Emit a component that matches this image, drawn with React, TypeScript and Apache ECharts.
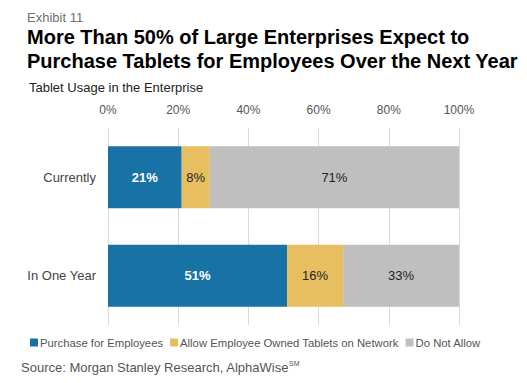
import React, { useEffect, useRef } from "react";
import * as echarts from "echarts";

const categories = ["Currently", "In One Year"];
const purchase = [21, 51];
const allowOwned = [8, 16];
const doNotAllow = [71, 33];
const seriesNames = ["Purchase for Employees", "Allow Employee Owned Tablets on Network", "Do Not Allow"];
const colors = ["#1872a6", "#e8bf60", "#bfbfbf"];

export default function App() {
  const ref = useRef<HTMLDivElement>(null);
  useEffect(() => {
    const chart = echarts.init(ref.current!, null, { renderer: "svg" });
    const font = "Liberation Sans, Arial, sans-serif";
    const mk = (name: string, data: number[], color: string, labelColor: string, bold: boolean) => ({
      name,
      type: "bar",
      stack: "total",
      data,
      barWidth: "63%",
      itemStyle: { color },
      label: {
        show: true,
        position: "inside",
        formatter: "{c}%",
        color: labelColor,
        fontWeight: bold ? "bold" : "normal",
        fontSize: 13,
        fontFamily: font,
      },
    });
    chart.setOption({
      animation: false,
      textStyle: { fontFamily: font },
      title: [
        { text: "Exhibit 11", left: 22, top: 6, textStyle: { fontSize: 13, color: "#6e6e6e", fontWeight: "normal", fontFamily: font } },
        {
          text: "More Than 50% of Large Enterprises Expect to\nPurchase Tablets for Employees Over the Next Year",
          left: 22,
          top: 20,
          textStyle: { fontSize: 20, color: "#000", fontWeight: "bold", lineHeight: 24, fontFamily: font },
        },
        { text: "Tablet Usage in the Enterprise", left: 24, top: 76, textStyle: { fontSize: 13, color: "#222", fontWeight: "normal", fontFamily: font } },
        {
          text: "Source: Morgan Stanley Research, AlphaWise{sup|SM}",
          left: 16,
          top: 355,
          textStyle: {
            fontSize: 13,
            color: "#555",
            fontWeight: "normal",
            fontFamily: font,
            rich: { sup: { fontSize: 7, color: "#555", verticalAlign: "top", padding: [0, 0, 8, 0] } },
          },
        },
      ],
      legend: {
        left: 25,
        top: 332,
        itemWidth: 8,
        itemHeight: 8,
        itemGap: 7,
        icon: "rect",
        textStyle: { fontSize: 11.3, color: "#555", fontFamily: font, padding: [0, 0, 0, -3] },
        data: seriesNames,
      },
      grid: { left: 108, right: 68, top: 128, bottom: 58, containLabel: false },
      xAxis: {
        type: "value",
        position: "top",
        min: 0,
        max: 100,
        interval: 20,
        axisLabel: { formatter: "{value}%", color: "#555", fontSize: 12, margin: 12, fontFamily: font },
        axisLine: { show: false },
        axisTick: { show: false },
        splitLine: { show: true, lineStyle: { color: "#d9d9d9", width: 1 } },
      },
      yAxis: {
        type: "category",
        inverse: true,
        data: categories,
        axisLine: { show: false },
        axisTick: { show: false },
        axisLabel: { color: "#444", fontSize: 13, margin: 12, fontFamily: font },
      },
      series: [
        mk(seriesNames[0], purchase, colors[0], "#fff", true),
        mk(seriesNames[1], allowOwned, colors[1], "#222", false),
        mk(seriesNames[2], doNotAllow, colors[2], "#222", false),
      ],
    });
    return () => chart.dispose();
  }, []);
  return <div ref={ref} style={{ width: 527, height: 383, position: "absolute", left: 0, top: 0, background: "#fff" }} />;
}
